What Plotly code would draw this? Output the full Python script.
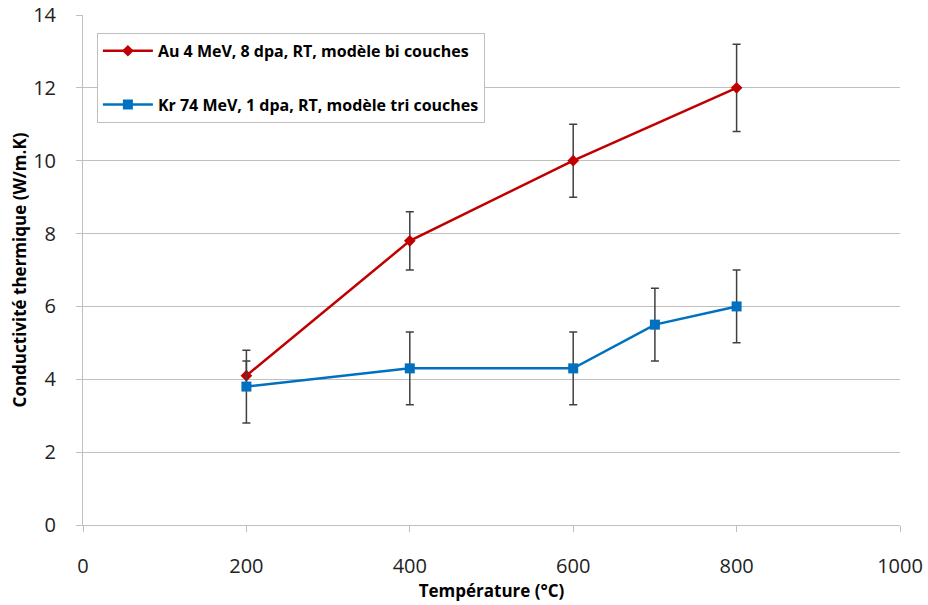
import plotly.graph_objects as go

# Data
temp_au = [200, 400, 600, 800]
k_au = [4.1, 7.8, 10.0, 12.0]
err_au = [0.4, 0.8, 1.0, 1.2]

temp_kr = [200, 400, 600, 700, 800]
k_kr = [3.8, 4.3, 4.3, 5.5, 6.0]
err_kr = [1.0, 1.0, 1.0, 1.0, 1.0]

x_ticks = [0, 200, 400, 600, 800, 1000]
y_ticks = [0, 2, 4, 6, 8, 10, 12, 14]

name_au = "Au 4 MeV, 8 dpa, RT, modèle bi couches"
name_kr = "Kr 74 MeV, 1 dpa, RT, modèle tri couches"

fig = go.Figure()
fig.add_trace(go.Scatter(
    x=temp_au, y=k_au, name=name_au, mode="lines+markers", legendgroup="a",
    line=dict(color="#C00000", width=2.5),
    marker=dict(symbol="diamond", size=9, color="#C00000"),
    error_y=dict(type="data", array=err_au, visible=True, color="#404040", thickness=1.5, width=4),
))
fig.add_trace(go.Scatter(
    x=temp_kr, y=k_kr, name=name_kr, mode="lines+markers", legendgroup="b",
    line=dict(color="#0070C0", width=2.5),
    marker=dict(symbol="square", size=10, color="#0070C0"),
    error_y=dict(type="data", array=err_kr, visible=True, color="#404040", thickness=1.5, width=4),
))

font_family = "Open Sans, Liberation Sans, sans-serif"
fig.update_layout(
    width=928, height=605,
    margin=dict(l=83, r=28, t=15, b=80),
    paper_bgcolor="white", plot_bgcolor="white",
    font=dict(family=font_family, color="#000000"),
    showlegend=True,
    legend=dict(
        x=0.017, y=0.965, xanchor="left", yanchor="top",
        bordercolor="#BFBFBF", borderwidth=1, bgcolor="white",
        font=dict(size=16, family=font_family, color="#000000", weight="bold"),
        tracegroupgap=30, itemwidth=50,
    ),
    xaxis=dict(
        range=[0, 1000], tickvals=x_ticks, ticks="outside", ticklen=6, tickcolor="#BFBFBF",
        showgrid=False, showline=True, linecolor="#BFBFBF", linewidth=1, zeroline=False,
        tickfont=dict(size=20, color="#222222"), ticklabelstandoff=17, automargin=False,
        title=dict(text="<b>Température (°C)</b>", font=dict(size=17), standoff=5),
    ),
    yaxis=dict(
        range=[0, 14], tickvals=y_ticks, ticks="outside", ticklen=6, tickcolor="#BFBFBF",
        showgrid=True, gridcolor="#BFBFBF", gridwidth=1,
        showline=True, linecolor="#BFBFBF", linewidth=1, zeroline=False,
        tickfont=dict(size=20, color="#222222"), ticklabelstandoff=16, automargin=False,
        title=dict(text="<b>Conductivité thermique (W/m.K)</b>", font=dict(size=17), standoff=2),
    ),
)

fig.write_html("out.html", config={"displayModeBar": False},
               post_script="document.body.style.margin='0';")
